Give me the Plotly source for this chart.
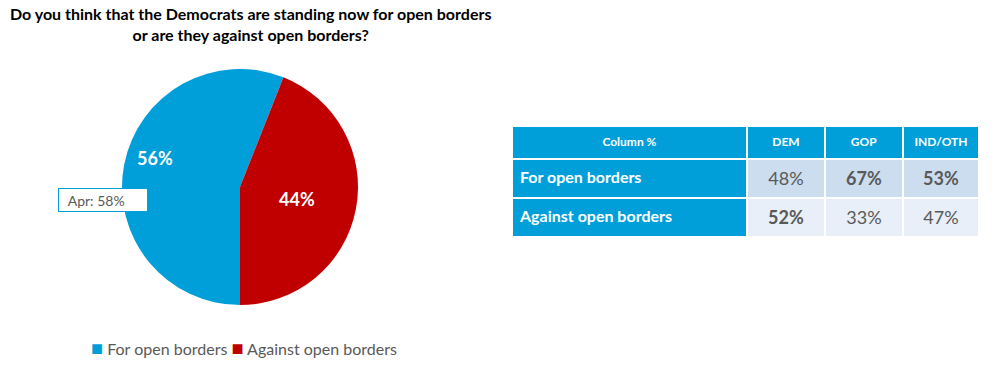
import plotly.graph_objects as go

# ---- data ----
pie_labels = ["For open borders", "Against open borders"]
pie_values = [56, 44]
pie_colors = ["#009FDA", "#C00000"]
prev_label = "Apr: 58%"

title_text = "Do you think that the Democrats are standing now for open borders<br>or are they against open borders?"

table_header = ["Column %", "DEM", "GOP", "IND/OTH"]
row_labels = ["For open borders", "Against open borders"]
dem_vals = ["48%", "52%"]
gop_vals = ["67%", "33%"]
ind_vals = ["53%", "47%"]
dem_bold = [False, True]
gop_bold = [True, False]
ind_bold = [True, False]

W, H = 1004, 369
BLUE = "#009FDA"
GRAY = "#595959"
FONT = "Lato"

def px(x):
    return x / W

def py(y):
    return 1 - y / H

def fmt(vals, bolds):
    return [f"<b>{v}</b>" if b else f"<span>{v}</span>" for v, b in zip(vals, bolds)]

fig = go.Figure()

fig.add_trace(go.Pie(
    labels=pie_labels,
    values=pie_values,
    marker=dict(colors=pie_colors, line=dict(width=0)),
    sort=False,
    direction="clockwise",
    rotation=180,
    textinfo="none",
    hoverinfo="label+percent",
    domain=dict(x=[px(122), px(358)], y=[py(305), py(69)]),
    showlegend=False,
))

row_label_text = [f"<b>{r}</b>" for r in row_labels]
fig.add_trace(go.Table(
    domain=dict(x=[px(512), px(979)], y=[py(240), py(126)]),
    columnwidth=[232, 77, 77, 75],
    header=dict(
        values=[f"<b>{h}</b>" for h in table_header],
        fill_color=BLUE,
        line=dict(color="white", width=2),
        font=dict(family=FONT, size=12, color="white"),
        align="center",
        height=33,
    ),
    cells=dict(
        values=[row_label_text, fmt(dem_vals, dem_bold), fmt(gop_vals, gop_bold), fmt(ind_vals, ind_bold)],
        fill_color=[[BLUE, BLUE], ["#CCDDEF", "#E8EFF8"], ["#CCDDEF", "#E8EFF8"], ["#CCDDEF", "#E8EFF8"]],
        line=dict(color="white", width=2),
        font=dict(family=FONT, size=[16, 18, 18, 18], color=["white", GRAY, GRAY, GRAY]),
        align=["left", "center", "center", "center"],
        height=39,
    ),
))

legend_text = (
    f"<span style='color:{pie_colors[0]};font-size:20px'>■</span> {pie_labels[0]} "
    f"<span style='color:{pie_colors[1]};font-size:20px'>■</span> {pie_labels[1]}"
)

annotations = [
    dict(x=px(250), y=py(2), xref="paper", yref="paper", xanchor="center", yanchor="top",
         text=f"<b>{title_text}</b>", showarrow=False,
         font=dict(family=FONT, size=16, color="black"), align="center"),
    dict(x=px(155), y=py(158), xref="paper", yref="paper", xanchor="center", yanchor="middle",
         text=f"<b>{pie_values[0]}%</b>", showarrow=False,
         font=dict(family=FONT, size=18, color="white")),
    dict(x=px(297), y=py(199), xref="paper", yref="paper", xanchor="center", yanchor="middle",
         text=f"<b>{pie_values[1]}%</b>", showarrow=False,
         font=dict(family=FONT, size=18, color="white")),
    dict(x=px(58), y=py(200), xref="paper", yref="paper", xanchor="left", yanchor="middle",
         text="&nbsp;&nbsp;" + prev_label, showarrow=False, width=84, height=18, align="left",
         bgcolor="white", bordercolor=BLUE, borderwidth=1, borderpad=2,
         font=dict(family=FONT, size=14, color=GRAY)),
    dict(x=px(89), y=py(347), xref="paper", yref="paper", xanchor="left", yanchor="middle",
         text=legend_text, showarrow=False,
         font=dict(family=FONT, size=16, color=GRAY)),
]

fig.update_layout(
    width=W, height=H,
    margin=dict(l=0, r=0, t=0, b=0),
    paper_bgcolor="white",
    plot_bgcolor="white",
    annotations=annotations,
    showlegend=False,
)

fig.write_html("out.html")
